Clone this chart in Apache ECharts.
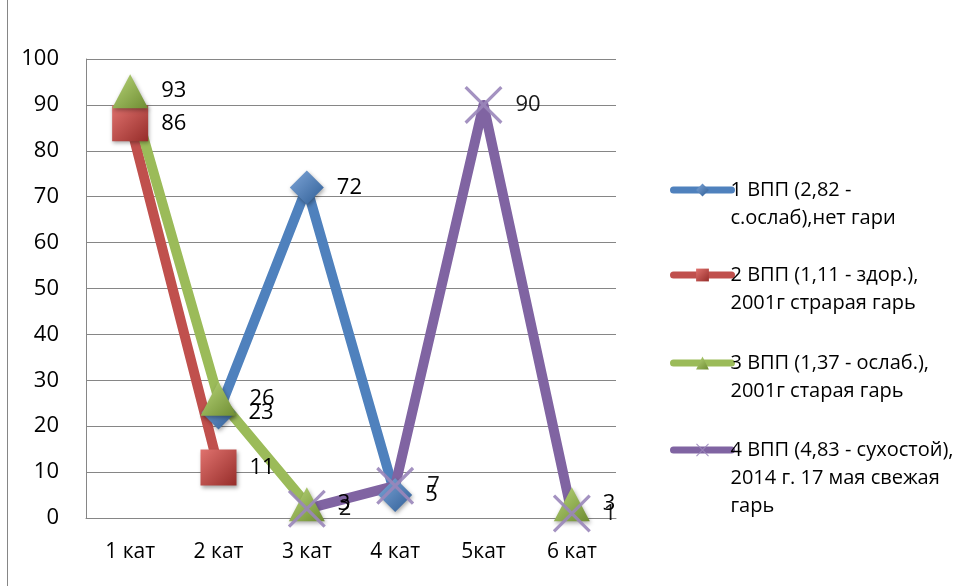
<!DOCTYPE html>
<html><head><meta charset="utf-8">
<script src="https://cdn.jsdelivr.net/npm/echarts@6/dist/echarts.min.js"></script>
<style>html,body{margin:0;padding:0;background:#fff}#c{width:967px;height:586px}</style>
</head><body><div id="c"></div>
<script>
const categories = ['1 кат', '2 кат', '3 кат', '4 кат', '5кат', '6 кат'];
const yTicks = [0, 10, 20, 30, 40, 50, 60, 70, 80, 90, 100];
const seriesNames = [
  '1 ВПП (2,82 -\nс.ослаб),нет гари',
  '2 ВПП (1,11 - здор.),\n2001г страрая гарь',
  '3 ВПП (1,37 - ослаб.),\n2001г старая гарь',
  '4 ВПП (4,83 - сухостой),\n2014 г. 17 мая свежая\nгарь'
];
const s1 = [null, 23, 72, 5, null, null];
const s2 = [86, 11, null, null, null, null];
const s3 = [93, 26, 3, null, null, 3];
const s4 = [null, null, 2, 7, 90, 1];

const colors = ['#4F81BD', '#C0504D', '#9BBB59', '#8064A2'];
function grad(light, dark) {
  return new echarts.graphic.LinearGradient(0, 0, 1, 1, [
    {offset: 0, color: light}, {offset: 1, color: dark}]);
}
const font = '"Open Sans", "Liberation Sans", sans-serif';
const xPath = 'path://M0,0.6L0.6,0L10,9.4L9.4,10Z M9.4,0L10,0.6L0.6,10L0,9.4Z';

function mk(name, data, color, symbol, size, fill, extra) {
  return Object.assign({
    name: name, type: 'line', data: data,
    symbol: symbol, symbolSize: size,
    connectNulls: false,
    lineStyle: {width: 10, color: color, cap: 'round', join: 'round'},
    itemStyle: {color: fill, shadowBlur: 4, shadowColor: 'rgba(0,0,0,0.35)', shadowOffsetX: 1, shadowOffsetY: 2},
    label: {show: true, position: 'right', distance: 13, color: '#000', fontSize: 22, fontFamily: font},
    emphasis: {disabled: true},
    animation: false
  }, extra || {});
}

const series = [
  mk(seriesNames[0], s1, colors[0], 'diamond', [34, 34], grad('#7FA6D8', '#2F5E96')),
  mk(seriesNames[1], s2, colors[1], 'rect', [36, 36], grad('#E0726E', '#962D2A')),
  mk(seriesNames[2], s3, colors[2], 'triangle', [36, 34], grad('#B9D67A', '#6E8C32')),
  mk(seriesNames[3], s4, colors[3], xPath, [38, 38], '#9C84C0', {itemStyle: {color: '#9A86BA', opacity: 0.9}})
];

function legendFor(i, top, blanks) {
  return {
    data: [seriesNames[i]], left: 665, top: top, orient: 'vertical',
    itemWidth: 58, itemHeight: 16, itemGap: 0,
    lineStyle: {width: 7, cap: 'round'},
    textStyle: {fontSize: 20, fontFamily: font, color: '#000', lineHeight: 28, padding: [0, 0, 0, -6]},
    formatter: function (n) { return '\n'.repeat(blanks) + n; }
  };
}

const chart = echarts.init(document.getElementById('c'));
chart.setOption({
  animation: false,
  color: colors,
  grid: {left: 86, right: 351, top: 59, bottom: 68},
  legend: [legendFor(0, 143, 1), legendFor(1, 228, 1), legendFor(2, 316, 1), legendFor(3, 375, 2)],
  xAxis: {
    type: 'category', data: categories, boundaryGap: true,
    axisLine: {lineStyle: {color: '#868686'}},
    axisTick: {show: false},
    axisLabel: {color: '#000', fontSize: 21, fontFamily: font, margin: 24}
  },
  yAxis: {
    type: 'value', min: 0, max: 100, interval: 10,
    axisLine: {show: true, lineStyle: {color: '#868686'}},
    axisTick: {show: false},
    splitLine: {lineStyle: {color: '#868686', width: 1}},
    axisLabel: {color: '#000', fontSize: 22, fontFamily: font, margin: 27,
      formatter: function (v) { return yTicks.indexOf(v) >= 0 ? String(v) : ''; }}
  },
  graphic: [{type: 'line', shape: {x1: 7.5, y1: 0, x2: 7.5, y2: 586}, style: {stroke: '#868686', lineWidth: 1}}],
  series: series
});
</script></body></html>
